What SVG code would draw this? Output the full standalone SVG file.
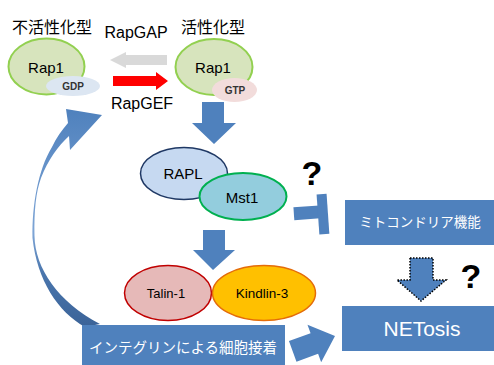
<svg xmlns="http://www.w3.org/2000/svg" width="494" height="365" viewBox="0 0 494 365">
<defs>
<linearGradient id="curveGrad" x1="0" y1="0" x2="0" y2="1">
<stop offset="0" stop-color="#4f81bd"/>
<stop offset="0.57" stop-color="#7ea5d6"/>
<stop offset="0.75" stop-color="#4a76ad"/>
<stop offset="1" stop-color="#3b6398"/>
</linearGradient>
</defs>
<style>
text{font-family:"Liberation Sans","Noto Sans CJK JP",Arial,sans-serif;text-anchor:middle;fill:#000}
.jp{font-size:16px}
.lbl{font-size:16px}
.w{fill:#fff}
.blue{fill:#4f81bd}
.q{font-size:34px;font-weight:bold}
.small{font-size:10px;font-weight:bold;fill:#333}
</style>

<g id="labels">
<text class="jp" x="52" y="33">不活性化型</text>
<text class="jp" x="213" y="33">活性化型</text>
<text class="lbl" x="136" y="38">RapGAP</text>
<text class="lbl" x="142" y="109">RapGEF</text>
</g>

<g id="connectors">
<polygon fill="#d9d9d9" points="167,55 126,55 126,52 110,60 126,68 126,65 167,65"/>
<polygon fill="#ff0000" points="113,76 156,76 156,72 168,81 156,90 156,86 113,86"/>
<polygon class="blue" points="202,102 224,102 224,123 236,123 214,144 192,123 202,123"/>
<polygon class="blue" points="203,230 225,230 225,250 235,250 213,270 193,250 203,250"/>
<g transform="rotate(-4 311 215)" class="blue">
<rect x="294" y="206" width="26" height="13"/>
<rect x="318" y="195" width="10" height="40"/>
</g>
<polygon fill="#4f81bd" stroke="#000" stroke-width="1.5" stroke-dasharray="1.5 1.5" points="410,258 433,258 433,280 446,280 421,301 397,280 410,280"/>
<g transform="translate(335 336) rotate(-20)">
<polygon class="blue" points="-45,-11 -22,-11 -22,-20 0,0 -22,20 -22,11 -45,11"/>
</g>
<path fill="url(#curveGrad)" d="M66,109 L102,115 L70,150 L69,136 C58,146 48,160 41,178 C36,192 34,210 34.5,236 C35,268 58,302 100,324 L85,327 C58,312 37,280 32.5,238 C32,205 38,170 52,147 C56,138 62,130 68,123 Z"/>
</g>

<g id="rap1-inactive">
<ellipse cx="46.5" cy="66.5" rx="38" ry="28" fill="#d7e4bd" stroke="#92d050" stroke-width="2"/>
<text x="46" y="73" font-size="15">Rap1</text>
</g>
<g id="gdp">
<ellipse cx="73" cy="86" rx="27" ry="10" fill="#dce6f2"/>
<text class="small" x="73" y="90">GDP</text>
</g>

<g id="rap1-active">
<ellipse cx="214" cy="67" rx="38.5" ry="28" fill="#d7e4bd" stroke="#92d050" stroke-width="2"/>
<text x="213" y="73" font-size="15">Rap1</text>
</g>
<g id="gtp">
<ellipse cx="234.5" cy="90" rx="22.5" ry="12" fill="#f2dcdb"/>
<text class="small" x="235" y="94">GTP</text>
</g>

<g id="rapl">
<ellipse cx="184" cy="173.5" rx="43.5" ry="26" fill="#c6d9f1" stroke="#1f3864" stroke-width="1.5"/>
<text x="183" y="179" font-size="15">RAPL</text>
</g>
<g id="mst1">
<ellipse cx="243" cy="196.5" rx="43.5" ry="23.5" fill="#93cddd" stroke="#00b050" stroke-width="2"/>
<text x="242" y="203" font-size="15">Mst1</text>
</g>

<g id="q1"><text class="q" x="312" y="185">?</text></g>

<g id="mito">
<rect x="345" y="200" width="149" height="45" class="blue"/>
<text class="w" x="420" y="227" font-size="13.5">ミトコンドリア機能</text>
</g>

<g id="q2"><text class="q" x="471" y="288">?</text></g>

<g id="talin">
<ellipse cx="168" cy="293" rx="43.5" ry="27.5" fill="#e6b9b8" stroke="#c00000" stroke-width="1.5"/>
<text x="166" y="298" font-size="13">Talin-1</text>
</g>
<g id="kindlin">
<ellipse cx="264" cy="293" rx="51.5" ry="27.5" fill="#ffc000" stroke="#e46c0a" stroke-width="1.5"/>
<text x="262" y="298" font-size="13.5">Kindlin-3</text>
</g>

<g id="netosis">
<rect x="342" y="306" width="152" height="45" class="blue"/>
<text class="w" x="422" y="336" font-size="21">NETosis</text>
</g>

<g id="integrin">
<rect x="82" y="325" width="203" height="40" class="blue"/>
<text class="w" x="183" y="353" font-size="14.5">インテグリンによる細胞接着</text>
</g>
</svg>
